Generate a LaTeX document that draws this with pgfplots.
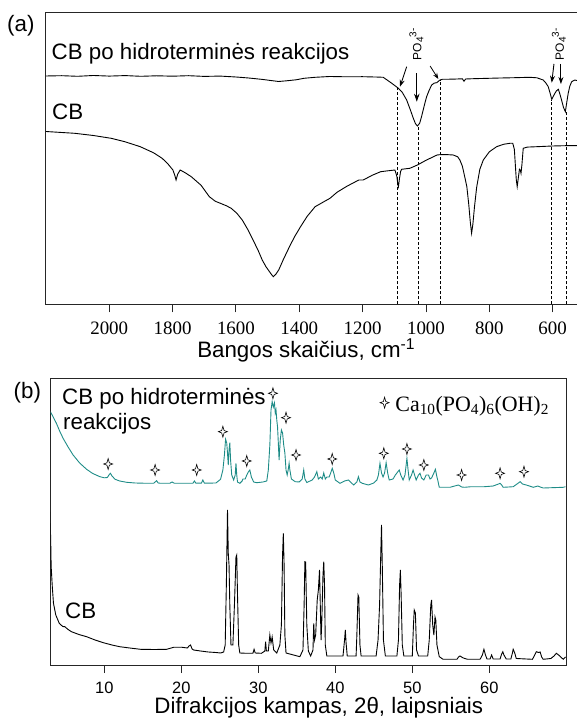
\documentclass[border=0pt]{standalone}
\usepackage{fontspec}
\setmainfont{Liberation Sans}
\newfontfamily\timesf{Liberation Serif}
\usepackage{pgfplots}
\pgfplotsset{compat=1.18}
\usetikzlibrary{arrows.meta}
\definecolor{tealc}{RGB}{30,140,135}
\newcommand\bigtxt{\fontsize{22.4}{26}\selectfont}
\newcommand\pofour{PO\raisebox{-2bp}{\fontsize{10}{11}\selectfont 4}\raisebox{5bp}{\fontsize{10}{11}\selectfont 3-}}

% four pointed white star
\pgfdeclareplotmark{fstar}{%
  \pgfpathmoveto{\pgfqpoint{0pt}{5.5bp}}%
  \pgfpathlineto{\pgfqpoint{1.2bp}{1.2bp}}%
  \pgfpathlineto{\pgfqpoint{4.5bp}{0pt}}%
  \pgfpathlineto{\pgfqpoint{1.2bp}{-1.2bp}}%
  \pgfpathlineto{\pgfqpoint{0pt}{-5.5bp}}%
  \pgfpathlineto{\pgfqpoint{-1.2bp}{-1.2bp}}%
  \pgfpathlineto{\pgfqpoint{-4.5bp}{0pt}}%
  \pgfpathlineto{\pgfqpoint{-1.2bp}{1.2bp}}%
  \pgfpathclose
  \pgfusepathqfillstroke}

\begin{document}
\begin{tikzpicture}
\useasboundingbox (0,0) rectangle (577bp,724bp);

% ---------------- (a) FTIR ----------------
\begin{axis}[
  at={(45bp,419.7bp)}, anchor=south west, scale only axis,
  width=536bp, height=292bp,
  x dir=reverse, xmin=510.6, xmax=2202.8, ymin=0, ymax=292,
  xtick={600,800,...,2000}, ytick=\empty,
  xtick pos=left, tick align=outside, major tick length=8bp,
  axis line style={black!85, line width=0.9bp},
  tick style={black!85, line width=0.9bp},
  /pgf/number format/1000 sep={},
  /pgf/number format/assume math mode=true,
  xticklabel style={font=\timesf\fontsize{19}{22}\selectfont, anchor=base, inner sep=0pt, yshift=-22.3bp},
  xlabel={Bangos skaičius, cm\textsuperscript{-1}},
  every axis x label/.style={at={(rel axis cs:0.4873,0)}, anchor=base, inner sep=0pt, yshift=-53bp, font=\bigtxt},
]
\addplot[black, line width=0.9bp] coordinates {
(2200,228.3) (2150,228.6) (2100,228.0) (2050,228.8) (2000,228.2) (1950,228.7)
(1900,228.0) (1850,228.5) (1800,228.1) (1750,228.6) (1700,227.9) (1650,228.2)
(1600,227.3) (1560,226.3) (1520,225.0) (1490,223.8) (1465,222.8) (1440,223.5)
(1410,224.5) (1385,226.0) (1350,227.0) (1304,227.8) (1250,227.5) (1200,227.6)
(1150,227.2) (1135,227) (1108,221) (1087,216) (1075,212) (1061,204.3) (1050,195)
(1040,186) (1033,180.5) (1027,178.3) (1020,181) (1014,187.6) (1006,198) (998,207.6)
(990,214) (982,219.3) (974,221.2) (966,221.6) (960,223.2) (956,224.3) (948,225)
(940,225) (910,225.2) (885,225.5) (880,223) (875,225.3) (850,225.6) (777,226.2)
(720,226.6) (672,227) (650,226.5) (630,224.3) (622,221.5) (614,217.6) (608,211)
(603,205) (598,208) (593,211) (588,213.5) (582,215) (577,210) (572,204.3) (566,197)
(560,192.6) (556,201) (551,211) (546,218) (540,222.6) (530,224.3) (515,223)
};
\addplot[black, line width=0.9bp] coordinates {
(2200,172.8) (2150,171.8) (2109,171) (2050,168.8) (1994,166) (1950,162.5)
(1902,157.6) (1860,151.5) (1833,146) (1815,140.5) (1799,134.3) (1793,129)
(1789,124.3) (1784,130) (1776,134.3) (1760,131.5) (1741,127.6) (1710,119)
(1684,107.6) (1665,103) (1649,101) (1630,98.5) (1615,96) (1597,91) (1580,84.3)
(1563,75) (1546,64.3) (1530,54) (1517,44.3) (1505,37.5) (1494,32.6) (1487,29.5)
(1482,27.6) (1474,30) (1465,34.3) (1450,45) (1431,57.6) (1415,67.5) (1396,77.6)
(1375,88) (1350,97.6) (1320,103) (1303,106) (1281,112) (1250,118) (1212,124.3)
(1198,124.3) (1170,129) (1143,132.6) (1120,133.5) (1098,134.3) (1092,128)
(1089,120) (1087,117.6) (1084,125) (1080,133) (1077,135) (1051,136) (1027,139.3)
(1000,144) (965,149.3) (956,149.6) (930,149.6) (914,149.3) (900,147.5) (893,144.3)
(885,138) (878,128) (871,117.6) (865,100) (860,82) (856,71) (852,80) (847,97)
(840,117) (830,135) (819,144.3) (800,152.5) (777,157.6) (755,160) (735,161)
(726,161) (721,155) (718,140) (715,125) (712,117.6) (709,125) (705,135) (702,134)
(700,131) (697,140) (693,156) (680,157.2) (650,157.6) (600,158.3) (560,158.6)
(515,158.6)
};
% guide lines
\addplot[black, line width=0.7bp, densely dashed] coordinates {(1089,0) (1089,216)};
\addplot[black, line width=0.7bp, densely dashed] coordinates {(1024,0) (1024,177.6)};
\addplot[black, line width=0.7bp, densely dashed] coordinates {(956,0) (956,224.3)};
\addplot[black, line width=0.7bp, densely dashed] coordinates {(603,0) (603,204.3)};
\addplot[black, line width=0.7bp, densely dashed] coordinates {(558,0) (558,192.6)};
% arrows
\draw[-{Stealth[length=7bp,width=5bp]}, line width=0.9bp] (1061,237.6) -- (1082,217.6);
\draw[-{Stealth[length=8bp,width=5.5bp]}, line width=0.9bp] (1029,231) -- (1029,202.6);
\draw[-{Stealth[length=6bp,width=4.5bp]}, line width=0.8bp] (987,238.3) -- (961,225.3);
\draw[-{Stealth[length=7bp,width=5bp]}, line width=0.9bp] (596,240.3) -- (603,221.6);
\draw[-{Stealth[length=7bp,width=5bp]}, line width=0.9bp] (574,240.3) -- (574,220.3);
\node[rotate=90, font=\fontsize{12}{13}\selectfont, inner sep=0pt] at (1030.6,260.1) {\pofour};
\node[rotate=90, font=\fontsize{12}{13}\selectfont, inner sep=0pt] at (580.7,260.1) {\pofour};
\end{axis}

% ---------------- (b) XRD ----------------
\begin{axis}[
  at={(50.7bp,59bp)}, anchor=south west, scale only axis,
  width=515.3bp, height=286.7bp,
  xmin=3.04, xmax=69.96, ymin=0, ymax=286.7,
  xtick={10,20,...,60}, ytick=\empty,
  xtick pos=left, tick align=outside, major tick length=8bp,
  axis line style={black!85, line width=0.9bp},
  tick style={black!85, line width=0.9bp},
  /pgf/number format/assume math mode=true,
  xticklabel style={font=\fontsize{16.5}{19}\selectfont, anchor=base, inner sep=0pt, yshift=-20.3bp},
  xlabel={Difrakcijos kampas, 2θ, laipsniais},
  every axis x label/.style={at={(rel axis cs:0.5203,0)}, anchor=base, inner sep=0pt, yshift=-48bp, font=\bigtxt},
]
\addplot[tealc, line width=0.9bp] coordinates {
(3.0,253.3) (3.4,247.5) (3.78,241.7) (4.2,234) (4.65,226.7) (5.3,218) (5.95,210)
(6.8,202) (7.7,195.7) (8.5,191.5) (9.43,188.3) (10.0,187.2) (10.4,187.5) (10.6,190)
(10.8,191.7) (11.0,189) (11.4,185.7) (12.0,184) (12.9,182.7) (14,182) (15,181.8)
(16.4,181.7) (16.6,183) (16.8,184.3) (17.0,182) (17.3,181.7) (18.5,181.7) (18.8,183)
(19.1,181.7) (21.5,181.7) (21.7,184) (21.9,181.8) (22.6,181.8) (22.8,185) (23.0,181.8)
(24.5,182) (25.1,185.7) (25.4,195) (25.6,210) (25.75,225.7) (25.9,222) (26.0,212)
(26.1,200) (26.2,215) (26.3,222.3) (26.4,205) (26.55,190) (26.8,185) (27.0,190)
(27.1,201.7) (27.2,190) (27.3,183) (27.6,181.7) (27.9,184) (28.0,186) (28.3,186)
(28.5,190) (28.7,193) (28.9,195) (29.1,188) (29.4,183) (29.8,182.3) (30.6,183)
(31.1,184) (31.3,195) (31.5,220) (31.65,255) (31.8,263.3) (31.95,258) (32.1,262)
(32.2,252) (32.3,255) (32.4,245) (32.5,238) (32.6,222) (32.7,205) (32.85,225)
(33.0,235) (33.15,232) (33.3,220) (33.45,212) (33.6,195) (33.75,190) (33.9,196)
(34.0,201.7) (34.1,195) (34.3,186) (34.8,183.3) (35.3,183) (35.7,186) (35.9,195)
(36.05,186) (36.3,182.5) (37.0,185) (37.3,188) (37.6,193.3) (37.8,186) (38.1,188)
(38.3,186) (38.5,192) (38.7,186) (38.9,188) (39.2,188) (39.4,192) (39.6,196.7)
(39.8,192) (40.0,185) (40.6,181.7) (41.2,184) (41.7,185) (42.1,182) (42.4,180)
(42.8,183) (43.0,188.3) (43.2,183) (43.5,181.7) (44.3,180) (45.0,182) (45.4,185)
(45.6,190) (45.8,201.7) (46.0,192) (46.2,188) (46.4,192) (46.6,202.3) (46.8,192)
(47.0,185) (47.5,186) (47.8,190) (48.1,193) (48.3,195) (48.5,190) (48.8,185)
(49.05,190) (49.3,206.7) (49.45,195) (49.6,185) (49.9,190) (50.1,195) (50.3,190)
(50.5,185) (50.8,190) (51.0,191.7) (51.2,187) (51.5,185) (51.8,190) (52.1,190)
(52.3,186) (52.5,187) (52.8,192) (53.0,195.7) (53.2,188) (53.3,185) (53.5,177.7)
(54.9,177.7) (55.5,179) (56.0,180) (56.4,178) (56.8,177.7) (57.5,178.2) (59.4,178.3)
(60.5,179) (61.2,181) (61.4,181.7) (61.6,180) (61.8,177.7) (62.5,178) (63.1,178.3)
(63.6,181) (64.0,183.3) (64.3,181) (64.8,180) (65.2,179) (65.7,177.7) (66.3,179)
(66.6,178) (67.0,177) (69.6,177.7) (69.9,178.3)
};
\addplot[black, line width=0.9bp] coordinates {
(2.95,155) (3.05,120) (3.1,98.3) (3.25,78) (3.4,61.7) (3.7,50) (4.15,41.7) (4.6,38.5)
(4.87,38.3) (5.3,35.5) (5.74,33.3) (6.7,30.5) (7.7,28.3) (8.8,25) (9.87,22.3) (11,20)
(12,18.3) (13.3,17) (14.7,15.7) (16.5,15.5) (18.1,15.7) (19.0,17.7) (20,17.8)
(20.8,17) (21.0,19) (21.2,20) (21.4,16) (21.6,15) (22.5,14) (23.5,13) (24.5,12.5)
(25.1,12) (25.5,13) (25.7,20) (25.85,80) (26.0,155) (26.1,111.7) (26.2,100) (26.3,60)
(26.45,20) (26.7,20) (26.9,60) (27.1,108) (27.2,110) (27.3,70) (27.45,20) (27.6,12)
(28.5,11.7) (29.3,11.7) (29.45,15.7) (29.6,12) (30.4,11.7) (30.85,14) (30.95,23.3)
(31.05,14) (31.3,14) (31.5,30) (31.65,22) (31.8,28) (32.0,15) (32.4,12) (32.8,20)
(33.0,40) (33.15,110) (33.25,131.7) (33.35,100) (33.45,30) (33.6,12) (35.4,8.3)
(35.8,15) (35.95,60) (36.05,103.3) (36.15,103) (36.3,40) (36.5,14) (36.8,9) (37.1,15)
(37.2,41.7) (37.3,25) (37.45,30) (37.65,65) (37.8,75) (37.95,95) (38.05,60) (38.15,25)
(38.25,45) (38.4,90) (38.5,103.3) (38.6,80) (38.7,20) (38.9,9) (41.0,9) (41.2,25)
(41.3,35) (41.4,22) (41.55,9) (42.7,9) (42.8,30) (42.95,70) (43.05,68) (43.2,20)
(43.35,9) (45.3,9) (45.55,25) (45.75,60) (45.9,110) (46.0,140) (46.1,100) (46.25,25)
(46.5,9) (48.0,9) (48.2,25) (48.35,80) (48.45,95) (48.55,70) (48.7,20) (48.9,9)
(50.0,9) (50.15,40) (50.25,55) (50.4,52) (50.55,15) (50.8,9) (52.0,9) (52.2,25)
(52.4,60) (52.5,65) (52.65,40) (52.8,30) (52.95,48) (53.05,45) (53.2,20) (53.5,8.3)
(54.0,5.7) (55.8,5.7) (56.0,8) (56.2,9) (56.5,7.5) (56.8,6.5) (57.2,5.7) (58.8,5.7)
(59.1,10) (59.3,15.7) (59.5,10) (59.7,6) (60.1,6) (60.3,10) (60.5,6) (61.4,6)
(61.6,11) (61.75,13.3) (61.9,10) (62.2,6) (62.8,6) (63.0,12) (63.1,15.7) (63.3,12)
(63.5,6.5) (65.6,5.7) (65.9,10) (66.1,13.3) (66.4,12.5) (66.6,13) (66.8,8) (67.0,5.7)
(68.0,6.5) (68.4,9) (68.7,11.7) (69.0,10) (69.6,5.7) (69.9,8)
};
% hydroxyapatite peaks
\addplot[only marks, mark=fstar, mark options={draw=black, fill=white, line width=0.6bp}] coordinates {
(10.5,201) (16.6,195) (22.0,195) (25.4,233.3) (28.5,204) (31.9,271.7) (33.6,247.3)
(34.9,210) (39.6,206) (46.3,211.7) (49.3,216) (51.5,200) (56.4,190) (61.4,191.7)
(64.5,193.3)
};
% legend symbol
\addplot[only marks, mark=fstar, mark options={draw=black, fill=white, line width=0.6bp}] coordinates {(46.4,262.3)};
\end{axis}

% ---------------- texts ----------------
\node[anchor=base west, inner sep=0pt, font=\bigtxt] at (7bp,692bp) {(a)};
\node[anchor=base west, inner sep=0pt, font=\bigtxt] at (51.5bp,664.7bp) {CB po hidroterminės reakcijos};
\node[anchor=base west, inner sep=0pt, font=\bigtxt] at (52bp,604bp) {CB};
\node[anchor=base west, inner sep=0pt, font=\bigtxt] at (13.5bp,325.3bp) {(b)};
\node[anchor=base west, inner sep=0pt, font=\bigtxt] at (62bp,319bp) {CB po hidroterminės};
\node[anchor=base west, inner sep=0pt, font=\bigtxt] at (63bp,294bp) {reakcijos};
\node[anchor=base west, inner sep=0pt, font=\bigtxt] at (65bp,105.7bp) {CB};
\node[anchor=base west, inner sep=0pt, font=\timesf\fontsize{22}{26}\selectfont] at (395.2bp,312.3bp)
  {Ca\textsubscript{10}(PO\textsubscript{4})\textsubscript{6}(OH)\textsubscript{2}};
\end{tikzpicture}
\end{document}
